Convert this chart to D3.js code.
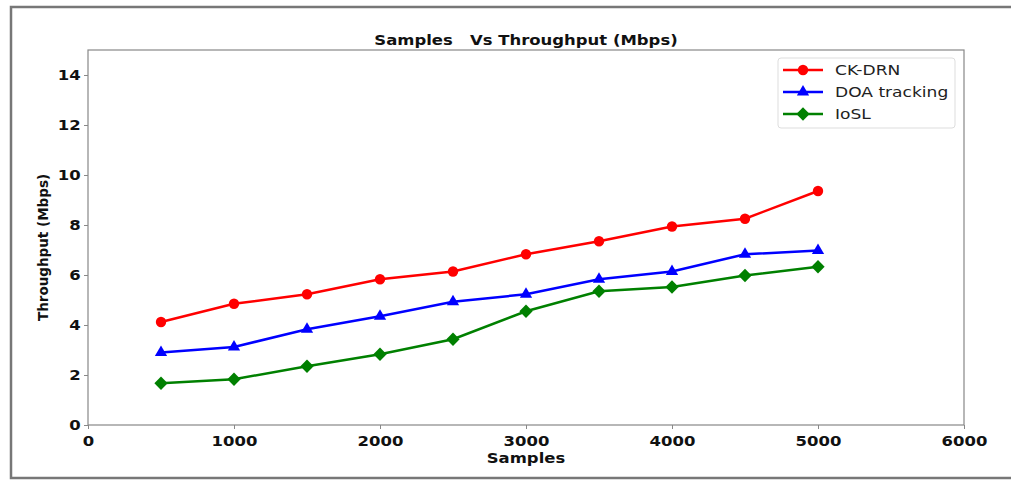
<!DOCTYPE html>
<html>
<head>
<meta charset="utf-8">
<script src="https://cdn.jsdelivr.net/npm/d3@7"></script>
<style>
  body { margin: 0; background: #fff; }
  text { font-family: "DejaVu Sans", sans-serif; }
</style>
</head>
<body>
<div class="canvas"></div>
<script>
const samples = [500, 1000, 1500, 2000, 2500, 3000, 3500, 4000, 4500, 5000];
const ckDrn = [4.12, 4.85, 5.23, 5.83, 6.14, 6.83, 7.35, 7.94, 8.25, 9.36];
const doaTracking = [2.9, 3.12, 3.83, 4.35, 4.93, 5.23, 5.83, 6.14, 6.83, 6.98];
const iosl = [1.67, 1.83, 2.35, 2.83, 3.43, 4.55, 5.35, 5.52, 5.98, 6.33];
const xTicks = [0, 1000, 2000, 3000, 4000, 5000, 6000];
const yTicks = [0, 2, 4, 6, 8, 10, 12, 14];

// matplotlib-style diamond: a square turned 45 degrees
const symbolDiamondSquare = {
  draw(context, size) {
    const r = Math.sqrt(size / 2);
    context.moveTo(0, -r);
    context.lineTo(r, 0);
    context.lineTo(0, r);
    context.lineTo(-r, 0);
    context.closePath();
  }
};

const series = [
  { name: 'CK-DRN', values: ckDrn, color: '#ff0000', symbol: d3.symbolCircle, size: 85 },
  { name: 'DOA tracking', values: doaTracking, color: '#0000ff', symbol: d3.symbolTriangle, size: 65 },
  { name: 'IoSL', values: iosl, color: '#008000', symbol: symbolDiamondSquare, size: 88 }
];

const dims = { width: 1011, height: 480 };
const margin = { top: 50, right: 47, bottom: 55, left: 88 };
const graphWidth = dims.width - margin.left - margin.right;
const graphHeight = dims.height - margin.top - margin.bottom;
const stretch = 1.22; // the source image is a little wider than tall

const svg = d3.select('.canvas')
  .append('svg')
  .attr('width', dims.width)
  .attr('height', dims.height);

// outer frame of the figure
svg.append('path')
  .attr('d', 'M1011,7 H11 V478 H1011')
  .attr('fill', 'none')
  .attr('stroke', '#777')
  .attr('stroke-width', 2.5);

const graph = svg.append('g')
  .attr('transform', `translate(${margin.left}, ${margin.top})`);

const x = d3.scaleLinear().domain([0, 6000]).range([0, graphWidth]);
const y = d3.scaleLinear().domain([0, 15]).range([graphHeight, 0]);

// axes
const xAxis = d3.axisBottom(x).tickValues(xTicks).tickSize(4).tickFormat(d3.format('d'));
const yAxis = d3.axisLeft(y).tickValues(yTicks).tickSize(4);

const xAxisGroup = graph.append('g')
  .attr('transform', `translate(0, ${graphHeight})`)
  .call(xAxis);
const yAxisGroup = graph.append('g').call(yAxis);

[xAxisGroup, yAxisGroup].forEach(g => {
  g.select('.domain').remove();
  g.selectAll('line').attr('stroke', '#888');
  g.selectAll('text')
    .attr('fill', '#111')
    .style('font-size', '13.5px')
    .style('font-weight', 'bold');
});
xAxisGroup.selectAll('text')
  .attr('dy', '1.05em')
  .attr('transform', `scale(${stretch}, 1)`);
yAxisGroup.selectAll('text')
  .attr('x', -6)
  .attr('transform', `scale(${stretch}, 1)`);

// plot frame
graph.append('rect')
  .attr('width', graphWidth)
  .attr('height', graphHeight)
  .attr('fill', 'none')
  .attr('stroke', '#888')
  .attr('stroke-width', 1.2);

// lines and markers
const line = d3.line()
  .x((d, i) => x(samples[i]))
  .y(d => y(d));

series.forEach(s => {
  graph.append('path')
    .datum(s.values)
    .attr('fill', 'none')
    .attr('stroke', s.color)
    .attr('stroke-width', 2.5)
    .attr('d', line);

  graph.selectAll(null)
    .data(s.values)
    .enter()
    .append('path')
      .attr('d', d3.symbol().type(s.symbol).size(s.size))
      .attr('fill', s.color)
      .attr('transform', (d, i) => `translate(${x(samples[i])}, ${y(d)})`);
});

// titles
const label = (tx, ty, str, size, rot) => svg.append('text')
  .attr('transform', `translate(${tx}, ${ty}) rotate(${rot || 0}) scale(${rot ? 1 : stretch}, ${rot ? 1.08 : 1})`)
  .attr('text-anchor', 'middle')
  .attr('fill', '#111')
  .style('font-size', size)
  .style('font-weight', 'bold')
  .style('white-space', 'pre')
  .text(str);

label(margin.left + graphWidth / 2, 45, 'Samples   Vs Throughput (Mbps)', '13.5px');
label(margin.left + graphWidth / 2, 463, 'Samples', '13.5px');
label(48, margin.top + graphHeight / 2 + 10, 'Throughput (Mbps)', '13.5px', -90);

// legend
const legendGroup = svg.append('g')
  .attr('transform', 'translate(778, 58)');

legendGroup.append('rect')
  .attr('width', 177)
  .attr('height', 70)
  .attr('rx', 3)
  .attr('fill', '#fff')
  .attr('stroke', '#ddd');

series.forEach((s, i) => {
  const row = legendGroup.append('g')
    .attr('transform', `translate(0, ${12 + i * 22})`);
  row.append('line')
    .attr('x1', 5).attr('x2', 45)
    .attr('stroke', s.color)
    .attr('stroke-width', 2.5);
  row.append('path')
    .attr('d', d3.symbol().type(s.symbol).size(s.size))
    .attr('fill', s.color)
    .attr('transform', 'translate(25, 0)');
  row.append('text')
    .attr('transform', `translate(57, 0) scale(${stretch}, 1)`)
    .attr('dy', '0.36em')
    .attr('fill', '#222')
    .style('font-size', '14px')
    .text(s.name);
});
</script>
</body>
</html>
